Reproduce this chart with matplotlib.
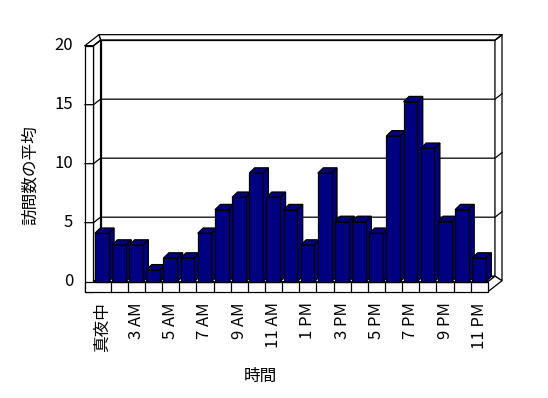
import matplotlib
matplotlib.use("Agg")
import matplotlib.pyplot as plt
from matplotlib.patches import Polygon, Rectangle

plt.rcParams['font.family'] = ['Noto Sans CJK JP', 'DejaVu Sans']

# 時間ごとの訪問数の平均 (1 AM はデータなし)
hours = ["真夜中", "2 AM", "3 AM", "4 AM", "5 AM", "6 AM", "7 AM", "8 AM",
         "9 AM", "10 AM", "11 AM", "正午", "1 PM", "2 PM", "3 PM", "4 PM",
         "5 PM", "6 PM", "7 PM", "8 PM", "9 PM", "10 PM", "11 PM"]
visits = [4.1, 3.1, 3.1, 1.0, 2.0, 2.0, 4.1, 6.1, 7.15, 9.2, 7.15, 6.1,
          3.1, 9.2, 5.1, 5.1, 4.1, 12.35, 15.25, 11.3, 5.1, 6.1, 2.0]
y_ticks = [0, 5, 10, 15, 20]
x_title = "時間"
y_title = "訪問数の平均"

navy = "#000080"
n = len(visits)
ymax = y_ticks[-1]

# pseudo-3D geometry in data units
dx, dy = 0.41, 0.466        # depth of the floor / walls
bdx, bdy = 0.32, 0.45       # depth of one column
bar_off, bar_w = 0.08, 0.80
wall = 0.5                  # left wall thickness
slab = 0.85                 # floor thickness

fig = plt.figure(figsize=(5.48, 3.98), dpi=100)
ax = fig.add_axes([0, 0, 1, 1])
ax.set_xlim(-5.452, 26.502)
ax.set_ylim(-9.856, 23.87)
ax.axis("off")

lw = 0.9
ec = "black"

def poly(pts, fc="white", z=1):
    ax.add_patch(Polygon(pts, closed=True, facecolor=fc, edgecolor=ec,
                         linewidth=lw, zorder=z, joinstyle="miter"))

# back wall (inner face + thickness)
poly([(dx, dy), (n + dx, dy), (n + dx, ymax + dy), (dx, ymax + dy)])
poly([(n + dx, dy), (n + 2 * dx, 2 * dy - slab), (n + 2 * dx, ymax + 2 * dy),
      (n + dx, ymax + dy)])
poly([(dx, ymax + dy), (n + dx, ymax + dy), (n + 2 * dx, ymax + 2 * dy),
      (-wall + 2 * dx, ymax + 2 * dy)])
# left wall
poly([(0, 0), (dx, dy), (dx, ymax + dy), (0, ymax)])
poly([(-wall, ymax), (0, ymax), (dx, ymax + dy), (-wall + 2 * dx, ymax + 2 * dy)])
poly([(-wall, -slab), (0, -slab), (0, ymax), (-wall, ymax)])
# floor
poly([(0, 0), (n, 0), (n + dx, dy), (dx, dy)])
poly([(n, -slab), (n, 0), (n + dx, dy), (n + 2 * dx, 2 * dy - slab)])
poly([(-wall, -slab), (n, -slab), (n, 0), (-wall, 0)])
for i in range(1, n):
    ax.plot([i, i], [-slab, 0], color=ec, lw=lw, zorder=2)

# gridlines
for v in y_ticks[1:]:
    ax.plot([-wall, 0, dx, n + dx, n + 2 * dx],
            [v, v, v + dy, v + dy, v + 2 * dy], color=ec, lw=lw, zorder=2)

# columns
for i, v in enumerate(visits):
    x0 = i + bar_off
    x1 = x0 + bar_w
    z = 3 + i
    poly([(x1, 0), (x1 + bdx, bdy), (x1 + bdx, v + bdy), (x1, v)], fc=navy, z=z)
    poly([(x0, v), (x1, v), (x1 + bdx, v + bdy), (x0 + bdx, v + bdy)], fc=navy, z=z)
    ax.add_patch(Rectangle((x0, 0), bar_w, v, facecolor=navy, edgecolor=ec,
                           linewidth=lw, zorder=z))

fs = 12
for v in y_ticks:
    ax.text(-wall - 0.68, v, str(v), ha="right", va="center", fontsize=fs)
for i in range(0, n, 2):
    ax.text(i + 0.5, -slab - 0.9, hours[i], rotation=90, ha="center", va="top",
            fontsize=fs)

ax.text(9.71, -8.05, x_title, ha="center", va="center", fontsize=fs)
ax.text(-3.7, 9.0, y_title, rotation=90, ha="center", va="center", fontsize=fs)

fig.savefig("out.png", dpi=100)
